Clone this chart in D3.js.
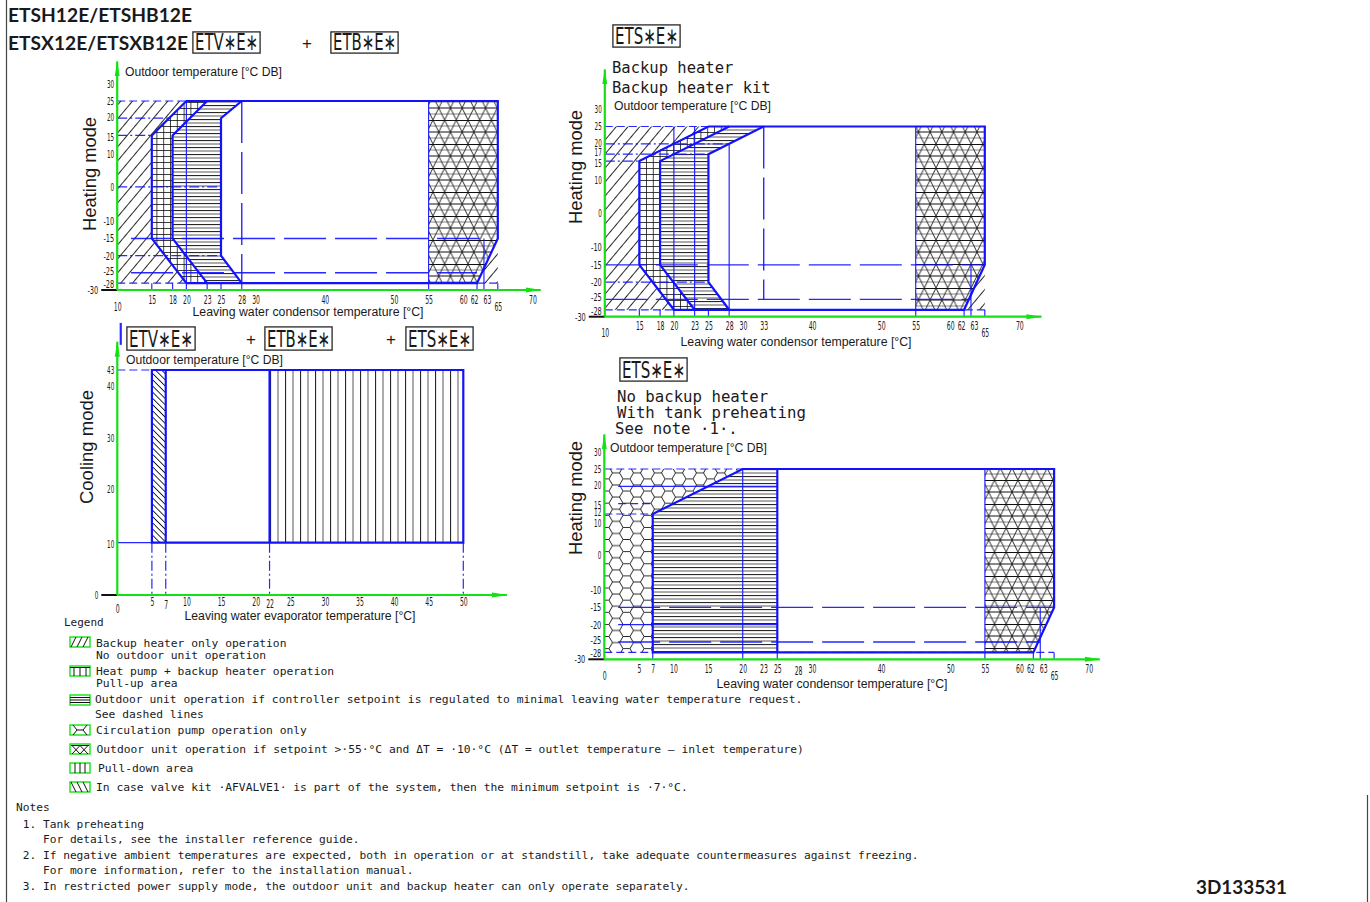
<!DOCTYPE html>
<html><head><meta charset="utf-8">
<script src="https://cdn.jsdelivr.net/npm/d3@7"></script>
<style>
body{margin:0;background:#fff;}
svg{display:block;}
</style></head><body>
<script>
// ---------- data (temperatures in °C) ----------

// Heating envelope: ETV*E* + ETB*E*
const h1XTicks = [10,15,18,20,23,25,28,30,40,50,55,60,62,63,65,70];
const h1YTicks = [30,25,20,15,10,0,-10,-15,-20,-25,-28,-30];
const h1Outer = [[15,15],[20,25],[65,25],[65,-15],[62,-28],[20,-28],[15,-15]];
const h1BackupOnly = [[10,-28],[20,-28],[15,-15],[15,15],[20,25],[10,25]];
const h1BackupCorner = [[62,-28],[65,-28],[65,-15]];
const h1PullUp = [[15,-15],[20,-28],[23,-28],[18,-15],[18,15],[23,25],[20,25],[15,15]];
const h1MinSetpoint = [[18,15],[23,25],[28,25],[25,20],[25,-20],[28,-28],[23,-28],[18,-15]];
const h1HighSetpoint = [[55,25],[65,25],[65,-15],[62,-28],[55,-28]];
const h1InnerLeft = [[23,-28],[18,-15],[18,15],[23,25]];
const h1InnerRight = [[28,25],[25,20],[25,-20],[28,-28]];
const h1Guides = [
  [10,25,20,25,"short"],[10,20,17.5,20,"dd"],[10,15,15,15,"dd"],[10,0,25,0,"dd"],
  [12,-15,63,-15,"long"],[10,-20,25,-20,"dd"],[12,-25,62,-25,"long"],[10,-28,65,-28,"short"],
  [20,25,20,-28,"thin"],[28,25,28,-28,"long"],[55,25,55,-28,"thin"],[63,-15,63,-28,"thin"]
];
const h1Drops = [15,18,20,23,25,28,55,62,63,65];

// Heating envelope: ETS*E* with backup heater / backup heater kit
const h2XTicks = [10,15,18,20,23,25,28,30,33,40,50,55,60,62,63,65,70];
const h2YTicks = [30,25,20,17,15,10,0,-10,-15,-20,-25,-28,-30];
const h2Outer = [[15,15],[25,25],[65,25],[65,-15],[62,-28],[20,-28],[15,-15]];
const h2BackupOnly = [[10,-28],[20,-28],[15,-15],[15,15],[25,25],[10,25]];
const h2BackupCorner = [[62,-28],[65,-28],[65,-15]];
const h2PullUp = [[15,-15],[20,-28],[23,-28],[18,-15],[18,15],[28,25],[25,25],[15,15]];
const h2MinSetpoint = [[18,15],[28,25],[33,25],[25,17],[25,-20],[28,-28],[23,-28],[18,-15]];
const h2HighSetpoint = [[55,25],[65,25],[65,-15],[62,-28],[55,-28]];
const h2InnerLeft = [[23,-28],[18,-15],[18,15],[28,25]];
const h2InnerRight = [[33,25],[25,17],[25,-20],[28,-28]];
const h2Guides = [
  [10,25,25,25,"short"],[10,20,28,20,"dd"],[10,17,25,17,"dd"],[10,15,15,15,"dd"],
  [10,-15,65,-15,"long"],[10,-20,25,-20,"dd"],[10,-25,63,-25,"long"],[10,-28,65,-28,"short"],
  [20,25,20,-28,"thin"],[23,25,23,-28,"thin"],[28,20,28,-28,"thin"],[33,25,33,-25,"long"],
  [55,25,55,-28,"thin"],[63,-15,63,-28,"thin"]
];
const h2Drops = [15,18,20,23,25,28,55,62,63,65];

// Cooling envelope: ETV*E* + ETB*E* + ETS*E*
const cXTicks = [0,5,7,10,15,20,22,25,30,35,40,45,50];
const cYTicks = [43,40,30,20,10,0];
const cOuter = [[5,10],[50,10],[50,43],[5,43]];
const cValveKit = [[5,10],[7,10],[7,43],[5,43]];
const cPullDown = [[22,10],[50,10],[50,43],[22,43]];
const cDividers = [[[7,10],[7,43]],[[22,10],[22,43]]];
const cGuides = [
  [0,43,5,43,"short"],[0,10,5,10,"thin"],
  [5,10,5,0,"dd"],[7,10,7,0,"dd"],[22,10,22,0,"dd"],[50,10,50,0,"dd"],
  [0.5,52,0.5,47.8,"thick"]
];

// Heating envelope: ETS*E* without backup heater, with tank preheating
const h4XTicks = [0,5,7,10,15,20,23,25,28,30,40,50,55,60,62,63,65,70];
const h4YTicks = [30,25,20,15,12,10,0,-10,-15,-20,-25,-28,-30];
const h4Outer = [[7,12],[20,25],[65,25],[65,-15],[62,-28],[7,-28]];
const h4PumpOnly = [[0,-28],[7,-28],[7,12],[20,25],[0,25]];
const h4MinSetpoint = [[7,-28],[25,-28],[25,25],[20,25],[7,12]];
const h4HighSetpoint = [[55,25],[65,25],[65,-15],[62,-28],[55,-28]];
const h4Limit = [[25,25],[25,-28]];
const h4Guides = [
  [0,25,20,25,"short"],[2,20,25,20,"thin"],[2,15,7,15,"short"],[0,12,7,12,"short"],
  [2,-15,65,-15,"long"],[2,-20,25,-20,"thin"],[2,-25,63,-25,"long"],[0,-28,65,-28,"short"],
  [20,25,20,-28,"thin"],[55,25,55,-28,"thin"],[63,-15,63,-28,"thin"]
];
const h4Drops = [7,20,25,55,62,63,65];

// Legend and notes
const legendItems = [
  {icon:"diag",   lines:["Backup heater only operation","No outdoor unit operation"]},
  {icon:"grid",   lines:["Heat pump + backup heater operation","Pull-up area"]},
  {icon:"hlines", lines:["Outdoor unit operation if controller setpoint is regulated to minimal leaving water temperature request.","See dashed lines"]},
  {icon:"hex",    lines:["Circulation pump operation only"]},
  {icon:"tri",    lines:["Outdoor unit operation if setpoint >·55·°C and ΔT = ·10·°C (ΔT = outlet temperature – inlet temperature)"]},
  {icon:"vlines", lines:["Pull-down area"]},
  {icon:"bdiag",  lines:["In case valve kit ·AFVALVE1· is part of the system, then the minimum setpoint is ·7·°C."]}
];
const notesLines = [
  "Notes",
  " 1. Tank preheating",
  "    For details, see the installer reference guide.",
  " 2. If negative ambient temperatures are expected, both in operation or at standstill, take adequate countermeasures against freezing.",
  "    For more information, refer to the installation manual.",
  " 3. In restricted power supply mode, the outdoor unit and backup heater can only operate separately."
];

// ---------- styling ----------
const BLUE = "#1212ff", GREEN = "#14e014", INK = "#1a1a1a";
const MONO = '"DejaVu Sans Mono", "Liberation Mono", monospace';
const NARROW = '"Liberation Sans Narrow", "DejaVu Sans Condensed", "Arial Narrow", sans-serif';
const SANS = '"Liberation Sans", Arial, sans-serif';
const BOLD = 'Lato, "Open Sans", sans-serif';

const W = 1370, H = 902;
const svg = d3.select("body").append("svg").attr("width", W).attr("height", H);
svg.append("rect").attr("width", W).attr("height", H).attr("fill", "#fff");
const defs = svg.append("defs");

function pattern(id, w, h, transform) {
  const p = defs.append("pattern").attr("id", id).attr("patternUnits", "userSpaceOnUse")
    .attr("width", w).attr("height", h);
  if (transform) p.attr("patternTransform", transform);
  p.append("rect").attr("width", w).attr("height", h).attr("fill", "#fff");
  return p;
}
function pline(p, x1, y1, x2, y2, col, sw) {
  p.append("line").attr("x1", x1).attr("y1", y1).attr("x2", x2).attr("y2", y2)
    .attr("stroke", col).attr("stroke-width", sw);
}
// backup heater only: "///"
pline(pattern("diag", 9, 9, "rotate(40)"), 4.5, 0, 4.5, 9, "#111", 0.9);
// valve kit: "\\\"
pline(pattern("bdiag", 4.4, 4.4, "rotate(-45)"), 2.2, 0, 2.2, 4.4, "#111", 0.9);
// pull-up grid
{ const p = pattern("grid", 6.8, 6); pline(p, 0.5, 0, 0.5, 6, "#111", 0.8); pline(p, 0, 0.5, 6.8, 0.5, "#111", 0.8); }
// minimal setpoint horizontal lines
{ const p = pattern("hlines", 10, 7); pline(p, 0, 0.6, 10, 0.6, "#111", 1); pline(p, 0, 4, 10, 4, "#888", 1.4); }
// pull-down vertical lines
{ const p = pattern("vlines", 15, 10); pline(p, 0.6, 0, 0.6, 10, "#111", 1); pline(p, 8, 0, 8, 10, "#888", 1.4); }
// high setpoint: triangle lattice with horizontal lines
{ const w = 11.7, h = 12, p = pattern("tri", w, 2 * h);
  pline(p, 0, h / 2, w, h / 2, "#999", 1.2);
  pline(p, 0, 1.5 * h, w, 1.5 * h, "#999", 1.2);
  pline(p, 0, 0.5, w, 0.5, "#111", 1);
  pline(p, 0, h, w, h, "#111", 1);
  pline(p, 0, 0, w, 2 * h, "#111", 0.9); pline(p, w, 0, 0, 2 * h, "#111", 0.9); }
// circulation pump honeycomb
{ const r = 7, hh = Math.sqrt(3) * r; const p = pattern("hex", 3 * r, hh);
  p.append("path").attr("fill", "none").attr("stroke", "#111").attr("stroke-width", 0.9)
    .attr("d", `M0,${hh/2}L${r/2},0L${1.5*r},0L${2*r},${hh/2}L${1.5*r},${hh}L${r/2},${hh}Z M${2*r},${hh/2}L${3*r},${hh/2}`); }

// arrow heads for the axes
defs.append("marker").attr("id", "arrow").attr("viewBox", "0 0 16 6").attr("refX", 15).attr("refY", 3)
  .attr("markerWidth", 16).attr("markerHeight", 6).attr("markerUnits", "userSpaceOnUse").attr("orient", "auto")
  .append("path").attr("d", "M0,0.5L16,3L0,5.5Z").attr("fill", GREEN);

const guideStyle = {
  thin:  {w: 1.2, dash: null},
  thick: {w: 2.2, dash: null},
  long:  {w: 1.4, dash: "42,9"},
  dd:    {w: 1.2, dash: "10,3,2,3"},
  short: {w: 1.2, dash: "8,4"}
};

// crowded y tick labels are nudged apart slightly
const yNudge = {20: -0.8, 17: -1.6, 15: 1.8, 12: -1.4, 10: 1.8, "-25": -1.8, "-28": 1.2};

function text(parent, x, y, s, o = {}) {
  const t = parent.append("text").attr("x", x).attr("y", y).text(s)
    .attr("font-family", o.family || SANS).attr("font-size", o.size || 12)
    .attr("fill", o.fill || INK);
  if (o.weight) t.attr("font-weight", o.weight);
  if (o.anchor) t.attr("text-anchor", o.anchor);
  if (o.len) t.attr("textLength", o.len).attr("lengthAdjust", "spacingAndGlyphs");
  if (o.space) t.attr("xml:space", "preserve").style("white-space", "pre");
  return t;
}

function boxLabel(bx, by, bw, bh, s) {
  svg.append("rect").attr("x", bx - 0.5).attr("y", by - 0.5).attr("width", bw + 1).attr("height", bh + 1)
    .attr("fill", "none").attr("stroke", "#aaa").attr("stroke-width", 1);
  svg.append("rect").attr("x", bx).attr("y", by).attr("width", bw).attr("height", bh)
    .attr("fill", "#fff").attr("stroke", "#111").attr("stroke-width", 1);
  text(svg, bx + 2, by + bh - 3, s, {family: NARROW, size: 23, len: bw - 4});
}

function drawChart(c) {
  const g = svg.append("g");
  const x = d3.scaleLinear().domain(c.xDomain).range(c.xRange);
  const y = d3.scaleLinear().domain(c.yDomain).range(c.yRange);
  const path = d3.line().x(d => x(d[0])).y(d => y(d[1]));

  // operating regions
  c.areas.forEach(([pts, pat]) => g.append("path").attr("d", path(pts) + "Z").attr("fill", `url(#${pat})`));

  // reference lines
  const drops = (c.drops || []).map(v => [v, c.dropFrom, v, c.yMin, "short"]);
  c.guides.concat(drops).forEach(([x1, y1, x2, y2, k]) => {
    const st = guideStyle[k];
    const l = g.append("line").attr("x1", x(x1)).attr("y1", y(y1)).attr("x2", x(x2)).attr("y2", y(y2))
      .attr("stroke", BLUE).attr("stroke-width", st.w).attr("opacity", 0.9);
    if (st.dash) l.attr("stroke-dasharray", st.dash);
  });

  // envelope outlines
  c.outlines.forEach(([pts, closed]) => g.append("path").attr("d", path(pts) + (closed ? "Z" : ""))
    .attr("fill", "none").attr("stroke", BLUE).attr("stroke-width", 2.2).attr("stroke-linejoin", "miter"));

  // tick labels
  const xo = d => c.xOff[d] || [0, 0];
  const ax = g.append("g").attr("transform", `translate(0,${y(c.yMin)})`)
    .call(d3.axisBottom(x).tickValues(c.xTicks).tickSize(0).tickPadding(c.xPad).tickFormat(d => String(d)));
  ax.select(".domain").remove();
  ax.attr("font-family", NARROW).attr("font-size", 12);
  ax.selectAll("text").attr("fill", INK)
    .attr("x", d => xo(d)[0])
    .attr("y", d => c.xPad + xo(d)[1])
    .attr("textLength", d => String(d).length * 3.9).attr("lengthAdjust", "spacingAndGlyphs");

  const ay = g.append("g").attr("transform", `translate(${x(c.xDomain[0])},0)`)
    .call(d3.axisLeft(y).tickValues(c.yTicks).tickSize(0).tickPadding(3).tickFormat(d => String(d)));
  ay.select(".domain").remove();
  ay.attr("font-family", NARROW).attr("font-size", 10.5);
  ay.selectAll("text").attr("fill", INK)
    .attr("x", d => -3 + (d === c.yMin ? -16 : 0))
    .attr("y", d => yNudge[d] || 0)
    .attr("textLength", d => String(d).length * 3.6).attr("lengthAdjust", "spacingAndGlyphs");

  // black stub at the origin
  g.append("line").attr("x1", x(c.xDomain[0]) - 16).attr("x2", x(c.xDomain[0]))
    .attr("y1", y(c.yMin)).attr("y2", y(c.yMin)).attr("stroke", "#111").attr("stroke-width", 2);

  // green axes with arrows
  g.append("line").attr("x1", x(c.xDomain[0])).attr("y1", y(c.yMin)).attr("x2", x(c.xDomain[0])).attr("y2", y(c.yTop))
    .attr("stroke", GREEN).attr("stroke-width", 2.2).attr("marker-end", "url(#arrow)");
  g.append("line").attr("x1", x(c.xDomain[0])).attr("y1", y(c.yMin)).attr("x2", x(c.xEnd)).attr("y2", y(c.yMin))
    .attr("stroke", GREEN).attr("stroke-width", 2.2).attr("marker-end", "url(#arrow)");

  // titles
  text(g, c.yTitle[1], c.yTitle[2], c.yTitle[0], {size: 12, len: 157});
  text(g, c.xTitle[1], c.xTitle[2], c.xTitle[0], {size: 12, len: 231, anchor: "middle"});
  g.append("text").attr("transform", `translate(${c.mode[1]},${c.mode[2]}) rotate(-90)`)
    .attr("text-anchor", "middle").attr("font-family", SANS).attr("font-size", 18).attr("fill", INK)
    .attr("textLength", 114).attr("lengthAdjust", "spacingAndGlyphs").text(c.mode[0]);
}

// page frame
svg.append("line").attr("x1", 6.5).attr("x2", 6.5).attr("y1", 0).attr("y2", H).attr("stroke", "#444").attr("stroke-width", 1.2);
svg.append("line").attr("x1", 1367.5).attr("x2", 1367.5).attr("y1", 795).attr("y2", H).attr("stroke", "#444").attr("stroke-width", 1.2);

// headers
text(svg, 8, 22, "ETSH12E/ETSHB12E", {family: BOLD, size: 18, weight: 700, len: 184});
text(svg, 8, 50, "ETSX12E/ETSXB12E", {family: BOLD, size: 18, weight: 700, len: 180});
boxLabel(193, 32, 67, 21, "ETV∗E∗");
text(svg, 307, 49, "+", {size: 17, anchor: "middle"});
boxLabel(331, 32, 67, 21, "ETB∗E∗");

boxLabel(613, 25, 67, 22, "ETS∗E∗");
text(svg, 612, 73, "Backup heater", {family: MONO, size: 15.5});
text(svg, 612, 93, "Backup heater kit", {family: MONO, size: 15.5});

boxLabel(127, 327, 68, 23, "ETV∗E∗");
text(svg, 251, 345, "+", {size: 17, anchor: "middle"});
boxLabel(265, 327, 67, 23, "ETB∗E∗");
text(svg, 391, 345, "+", {size: 17, anchor: "middle"});
boxLabel(406, 327, 67, 23, "ETS∗E∗");

boxLabel(620, 358, 67, 23, "ETS∗E∗");
text(svg, 617, 402, "No backup heater", {family: MONO, size: 15.7});
text(svg, 617, 418, "With tank preheating", {family: MONO, size: 15.7});
text(svg, 615, 434, "See note ·1·.", {family: MONO, size: 15.7});

// charts
const heatOff = {10: [0, 7], 62: [-3, 0], 63: [3, 0], 65: [0, 7]};
drawChart({
  xDomain: [10, 65], xRange: [117.2, 497.8], yDomain: [25, -30], yRange: [101, 290],
  xTicks: h1XTicks, yTicks: h1YTicks, xOff: heatOff, xPad: 5,
  yMin: -30, yTop: 36.5, xEnd: 71.2, dropFrom: -28,
  areas: [[h1BackupOnly, "diag"], [h1BackupCorner, "diag"], [h1PullUp, "grid"], [h1MinSetpoint, "hlines"], [h1HighSetpoint, "tri"]],
  guides: h1Guides, drops: h1Drops,
  outlines: [[h1Outer, true], [h1InnerLeft, false], [h1InnerRight, false]],
  yTitle: ["Outdoor temperature [°C DB]", 125, 76],
  xTitle: ["Leaving water condensor temperature [°C]", 308, 316],
  mode: ["Heating mode", 96, 174]
});
drawChart({
  xDomain: [10, 65], xRange: [604.8, 984.8], yDomain: [25, -30], yRange: [126.5, 316.7],
  xTicks: h2XTicks, yTicks: h2YTicks, xOff: heatOff, xPad: 5,
  yMin: -30, yTop: 41.5, xEnd: 73.2, dropFrom: -28,
  areas: [[h2BackupOnly, "diag"], [h2BackupCorner, "diag"], [h2PullUp, "grid"], [h2MinSetpoint, "hlines"], [h2HighSetpoint, "tri"]],
  guides: h2Guides, drops: h2Drops,
  outlines: [[h2Outer, true], [h2InnerLeft, false], [h2InnerRight, false]],
  yTitle: ["Outdoor temperature [°C DB]", 614, 110],
  xTitle: ["Leaving water condensor temperature [°C]", 796, 346],
  mode: ["Heating mode", 582, 167]
});
drawChart({
  xDomain: [0, 50], xRange: [117.3, 463.3], yDomain: [43, 0], yRange: [370, 595],
  xTicks: cXTicks, yTicks: cYTicks, xOff: {0: [0, 7], 7: [0, 3], 22: [0, 2]}, xPad: 2,
  yMin: 0, yTop: 48.4, xEnd: 56.3, dropFrom: 0,
  areas: [[cValveKit, "bdiag"], [cPullDown, "vlines"]],
  guides: cGuides, drops: [],
  outlines: [[cOuter, true], [cDividers[0], false], [cDividers[1], false]],
  yTitle: ["Outdoor temperature [°C DB]", 126, 364],
  xTitle: ["Leaving water evaporator temperature [°C]", 300, 620],
  mode: ["Cooling mode", 93, 447]
});
drawChart({
  xDomain: [0, 65], xRange: [604.3, 1054.1], yDomain: [25, -30], yRange: [469, 659.3],
  xTicks: h4XTicks, yTicks: h4YTicks, xOff: {0: [0, 7], 28: [0, 2], 62: [-3, 0], 63: [3, 0], 65: [0, 7]}, xPad: 5,
  yMin: -30, yTop: 35, xEnd: 71.6, dropFrom: -28,
  areas: [[h4PumpOnly, "hex"], [h4MinSetpoint, "hlines"], [h4HighSetpoint, "tri"]],
  guides: h4Guides, drops: h4Drops,
  outlines: [[h4Outer, true], [h4Limit, false]],
  yTitle: ["Outdoor temperature [°C DB]", 610, 452],
  xTitle: ["Leaving water condensor temperature [°C]", 832, 688],
  mode: ["Heating mode", 582, 498]
});

// legend
text(svg, 64, 626, "Legend", {family: MONO, size: 11});
const iconTops = [637, 666, 695, 725, 744, 763, 782];
const lineBases = [[647, 659], [675, 687], [703, 718], [734], [753], [772], [791]];
const textX = [96, 96, 95, 96, 96.5, 98, 96];

function drawIcon(kind, ix, iy) {
  const g = svg.append("g").attr("transform", `translate(${ix},${iy})`);
  g.append("rect").attr("width", 20).attr("height", 10).attr("fill", "#fff")
    .attr("stroke", GREEN).attr("stroke-width", 1.4);
  const d = {
    diag: "M1,10L6,0M7,10L12,0M13,10L18,0",
    grid: "M0,1.5H20M4,1.5V10M10,1.5V10M16,1.5V10",
    hlines: "M0,2.5H20M0,5H20M0,7.5H20",
    hex: "M3,0L7,5L3,10M7,5H13M17,0L13,5L17,10",
    tri: "M1,1.5H19M2,1.5L10,10M10,1.5L2,10M10,1.5L18,10M18,1.5L10,10",
    vlines: "M5,0V10M10,0V10M15,0V10",
    bdiag: "M1,0L6,10M7,0L12,10M13,0L18,10"
  }[kind];
  g.append("path").attr("d", d).attr("fill", "none").attr("stroke", "#111").attr("stroke-width", 1);
}
legendItems.forEach((it, i) => {
  drawIcon(it.icon, 70, iconTops[i]);
  it.lines.forEach((s, j) => text(svg, textX[i], lineBases[i][j], s, {family: MONO, size: 11.3}));
});

// notes
const noteBases = [811, 827.5, 842.5, 858.5, 873.5, 889.5];
notesLines.forEach((s, i) => text(svg, 16, noteBases[i], s, {family: MONO, size: 11.2, space: true}));

text(svg, 1196, 894, "3D133531", {family: BOLD, size: 18, weight: 700, len: 91});
</script>
</body></html>
